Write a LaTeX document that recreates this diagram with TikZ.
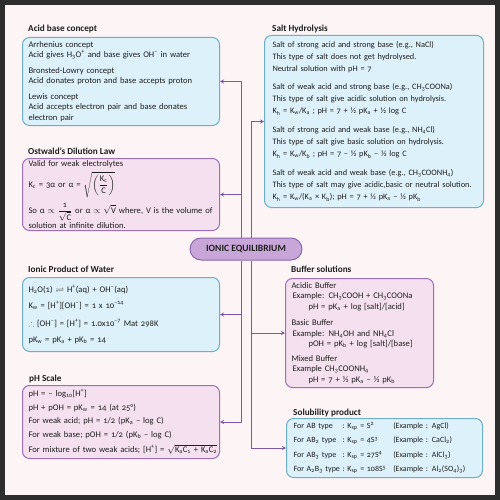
\documentclass[tikz,border=0pt]{standalone}
\usepackage{amsmath}
\usepackage{amssymb}
\usepackage{fontspec}
\setmainfont{Carlito}[Numbers=OldStyle]
\usetikzlibrary{positioning,arrows.meta}

\definecolor{framegray}{HTML}{2D2D2D}
\definecolor{pagepink}{HTML}{FDF4F6}
\definecolor{bluefill}{HTML}{DCF1F9}
\definecolor{blueline}{HTML}{6EAFC6}
\definecolor{pinkfill}{HTML}{F5E0F0}
\definecolor{pinkline}{HTML}{9B70B6}
\definecolor{linkcol}{HTML}{7D59A5}
\definecolor{hubfill}{HTML}{C8A7D8}
\definecolor{hubline}{HTML}{8C67AD}
\definecolor{inkcol}{HTML}{1E1E1E}

\newcommand{\ssub}[1]{\textsubscript{#1}}
\newcommand{\ssup}[1]{\textsuperscript{#1}}

\begin{document}
\begin{tikzpicture}[x=1pt, y=-1pt, font=\fontsize{8.6}{10.5}\selectfont, text=inkcol]
            \tikzstyle{bluebox} = [draw=blueline, fill=bluefill, line width=1pt, rounded corners=7pt, align=left, inner ysep=0pt, anchor=north west]
            \tikzstyle{pinkbox} = [bluebox, draw=pinkline, fill=pinkfill]
            \tikzstyle{head} = [font=\fontsize{9.2}{10}\selectfont\bfseries, inner sep=0pt, anchor=base west]
            \tikzstyle{hub} = [draw=hubline, fill=hubfill, line width=1pt, rounded corners=11pt, minimum width=112pt, minimum height=22pt, font=\fontsize{9.6}{10}\selectfont\bfseries]
            \tikzstyle{link} = [draw=linkcol, line width=1pt, -{Stealth[length=4pt, width=4pt]}]

            \useasboundingbox (0,0) rectangle (500,500);
            \fill [framegray] (0,0) rectangle (500,500);
            \fill [pagepink] (5,5) rectangle (495,495);

            % left column
            \node [bluebox, inner xsep=6pt, text width=185pt, minimum height=88pt] (acid) at (22,37) {%
                Arrhenius concept\\
                Acid gives H\ssub{3}O\ssup{+} and base gives OH\ssup{--} in water\\[5pt]
                Bronsted-Lowry concept\\
                Acid donates proton and base accepts proton\\[5pt]
                Lewis concept\\
                Acid accepts electron pair and base donates\\
                electron pair};
            \node [head] (acidhead) at ([xshift=6pt, yshift=5pt]acid.north west) {Acid base concept};

            \node [pinkbox, inner xsep=6pt, text width=185pt, minimum height=72pt] (ostwald) at (22,158) {%
                Valid for weak electrolytes\\[3pt]
                K\ssub{c} = 3α or α = $\sqrt{\left(\dfrac{\text{K\ssub{c}}}{\text{C}}\right)}$\\[4pt]
                So α $\propto$ $\dfrac{\text{\footnotesize 1}}{\sqrt{\text{C}}}$ or α $\propto$ $\sqrt{\text{V}}$ where, V is the volume of\\
                solution at infinite dilution.};
            \node [head] (ostwaldhead) at ([xshift=6pt, yshift=4pt]ostwald.north west) {Ostwald's Dilution Law};

            \node [bluebox, inner xsep=6pt, text width=185pt, minimum height=74pt] (water) at (22,277) {%
                H\ssub{2}O(1) $\rightleftharpoons$ H\ssup{+}(aq) + OH\ssup{--}(aq)\\[6pt]
                K\ssub{w} = [H\ssup{+}][OH\ssup{--}] = 1 x 10\ssup{--14}\\[7pt]
                $\therefore$ [OH\ssup{--}] = [H\ssup{+}] = 1.0x10\ssup{--7} Mat 298K\\[6pt]
                pK\ssub{w} = pK\ssub{a} + pK\ssub{b} = 14};
            \node [head] (waterhead) at ([xshift=6pt, yshift=5pt]water.north west) {Ionic Product of Water};

            \node [pinkbox, inner xsep=6pt, text width=185pt, minimum height=73pt] (phscale) at (22,385) {%
                pH = -- log\ssub{10}[H\ssup{+}]\\[3pt]
                pH + pOH = pK\ssub{w} = 14 (at 25°)\\[3pt]
                For weak acid; pH = 1/2 (pK\ssub{a} -- log C)\\[3pt]
                For weak base; pOH = 1/2 (pK\ssub{b} -- log C)\\[5pt]
                \mbox{For mixture of two weak acids; [H\ssup{+}] = $\sqrt{\text{K\ssub{a}C\ssub{1} + K\ssub{a}C\ssub{2}}}$}};
            \node [head] (phhead) at ([xshift=7pt, yshift=4pt]phscale.north west) {pH Scale};

            % right column
            \node [bluebox, inner xsep=8pt, text width=203pt, minimum height=172pt, font=\fontsize{8.3}{12}\selectfont] (salt) at (264,35) {%
                Salt of strong acid and strong base (e.g., NaCl)\\
                This type of salt does not get hydrolysed.\\
                Neutral solution with pH = 7\\[6pt]
                Salt of weak acid and strong base (e.g., CH\ssub{3}COONa)\\
                This type of salt give acidic solution on hydrolysis.\\
                K\ssub{h} = K\ssub{w}/K\ssub{a} ; pH = 7 + ½ pK\ssub{a} + ½ log C\\[7pt]
                Salt of strong acid and weak base (e.g., NH\ssub{4}Cl)\\
                This type of salt give basic solution on hydrolysis.\\
                K\ssub{h} = K\ssub{w}/K\ssub{b} ; pH = 7 -- ½ pK\ssub{b} -- ½ log C\\[7pt]
                Salt of weak acid and weak base (e.g., CH\ssub{3}COONH\ssub{4})\\
                \mbox{This type of salt may give acidic,basic or neutral solution.}\\
                K\ssub{h} = K\ssub{w}/(K\ssub{a} × K\ssub{b}); pH = 7 + ½ pK\ssub{a} -- ½ pK\ssub{b}};
            \node [head] (salthead) at ([xshift=8pt, yshift=3pt]salt.north west) {Salt Hydrolysis};

            \node [pinkbox, inner xsep=6pt, text width=136pt, minimum height=109pt] (buffer) at (285,278) {%
                Acidic Buffer\\
                \hspace*{1pt}Example: CH\ssub{3}COOH + CH\ssub{3}COONa\\
                \hspace*{17pt}pH = pK\ssub{a} + log [salt]/[acid]\\[6pt]
                Basic Buffer\\
                \hspace*{1pt}Example: NH\ssub{4}OH and NH\ssub{4}Cl\\
                \hspace*{17pt}pOH = pK\ssub{b} + log [salt]/[base]\\[4pt]
                Mixed Buffer\\
                \hspace*{1pt}Example CH\ssub{3}COONH\ssub{4}\\
                \hspace*{17pt}pH = 7 + ½ pK\ssub{a} -- ½ pK\ssub{b}};
            \node [head] (bufferhead) at ([xshift=6pt, yshift=6pt]buffer.north west) {Buffer solutions};

            \node [bluebox, inner xsep=7pt, text width=182pt, minimum height=59pt, font=\fontsize{8}{10.5}\selectfont] (solub) at (286,418) {%
                \begin{tabular}{@{}l@{\ :\ }l@{\hspace{7pt}}l@{}}
                For AB type & K\ssub{sp} = S\ssup{2} & (Example : AgCl)\\[4pt]
                For AB\ssub{2} type & K\ssub{sp} = 4S\ssup{3} & (Example : CaCl\ssub{2})\\[4pt]
                For AB\ssub{3} type & K\ssub{sp} = 27S\ssup{4} & (Example : AlCl\ssub{3})\\[4pt]
                For A\ssub{2}B\ssub{3} type & K\ssub{sp} = 108S\ssup{5} & (Example : Al\ssub{2}(SO\ssub{4})\ssub{3})
                \end{tabular}};
            \node [head] (solubhead) at ([xshift=7pt, yshift=3pt]solub.north west) {Solubility product};

            % centre and branches
            \node [hub] (hub) at (246,249) {IONIC EQUILIBRIUM};

            \draw [link] ([xshift=-5pt]hub.north) |- (acid.east);
            \draw [link] ([xshift=-5pt]hub.north) |- (ostwald.east);
            \draw [link] ([xshift=-5pt]hub.south) |- (water.east);
            \draw [link] ([xshift=-5pt]hub.south) |- (phscale.east);
            \draw [link] ([xshift=5pt]hub.north) |- (salt.west);
            \draw [link] ([xshift=5pt]hub.south) |- (buffer.west);
            \draw [link] ([xshift=5pt]hub.south) |- (solub.west);
        \end{tikzpicture}
\end{document}
